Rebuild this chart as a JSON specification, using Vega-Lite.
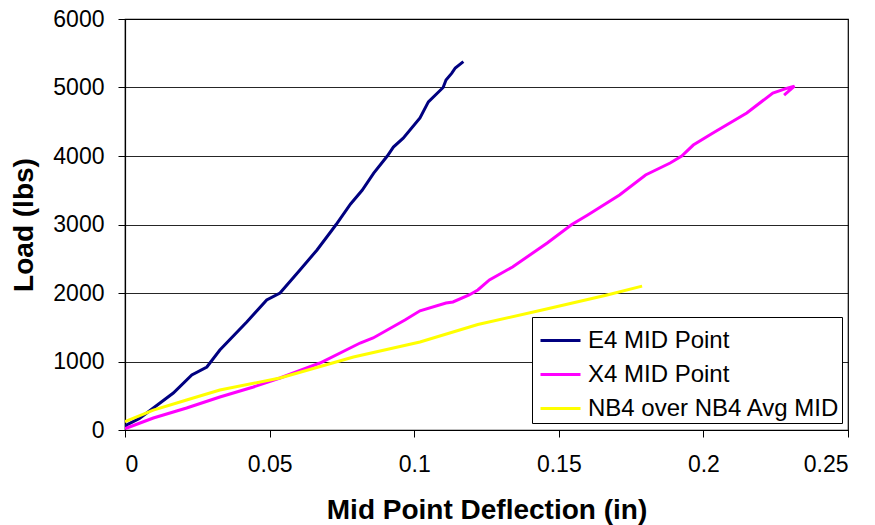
{
  "$schema": "https://vega.github.io/schema/vega-lite/v6.json",
  "width": 723,
  "height": 411,
  "autosize": "none",
  "padding": {"left": 125, "top": 19, "right": 27, "bottom": 95},
  "background": "white",
  "config": {
    "font": "Liberation Sans",
    "view": {"stroke": "black", "strokeWidth": 1.2}
  },
  "data": {
    "values": [
      {"s": "E4 MID Point", "i": 1, "x": 0, "y": 30},
      {"s": "E4 MID Point", "i": 2, "x": 0.0006, "y": 73},
      {"s": "E4 MID Point", "i": 3, "x": 0.005, "y": 170},
      {"s": "E4 MID Point", "i": 4, "x": 0.0098, "y": 321},
      {"s": "E4 MID Point", "i": 5, "x": 0.0167, "y": 540},
      {"s": "E4 MID Point", "i": 6, "x": 0.0231, "y": 803},
      {"s": "E4 MID Point", "i": 7, "x": 0.0283, "y": 920},
      {"s": "E4 MID Point", "i": 8, "x": 0.0328, "y": 1168},
      {"s": "E4 MID Point", "i": 9, "x": 0.0421, "y": 1577},
      {"s": "E4 MID Point", "i": 10, "x": 0.049, "y": 1898},
      {"s": "E4 MID Point", "i": 11, "x": 0.0536, "y": 2000},
      {"s": "E4 MID Point", "i": 12, "x": 0.0605, "y": 2336},
      {"s": "E4 MID Point", "i": 13, "x": 0.0664, "y": 2628},
      {"s": "E4 MID Point", "i": 14, "x": 0.0716, "y": 2920},
      {"s": "E4 MID Point", "i": 15, "x": 0.073, "y": 3000},
      {"s": "E4 MID Point", "i": 16, "x": 0.078, "y": 3300},
      {"s": "E4 MID Point", "i": 17, "x": 0.082, "y": 3500},
      {"s": "E4 MID Point", "i": 18, "x": 0.086, "y": 3750},
      {"s": "E4 MID Point", "i": 19, "x": 0.0907, "y": 4000},
      {"s": "E4 MID Point", "i": 20, "x": 0.0928, "y": 4130},
      {"s": "E4 MID Point", "i": 21, "x": 0.0962, "y": 4260},
      {"s": "E4 MID Point", "i": 22, "x": 0.102, "y": 4555},
      {"s": "E4 MID Point", "i": 23, "x": 0.1049, "y": 4790},
      {"s": "E4 MID Point", "i": 24, "x": 0.11, "y": 5000},
      {"s": "E4 MID Point", "i": 25, "x": 0.111, "y": 5110},
      {"s": "E4 MID Point", "i": 26, "x": 0.113, "y": 5210},
      {"s": "E4 MID Point", "i": 27, "x": 0.1142, "y": 5285},
      {"s": "E4 MID Point", "i": 28, "x": 0.117, "y": 5377},
      {"s": "X4 MID Point", "i": 1, "x": 0, "y": 20},
      {"s": "X4 MID Point", "i": 2, "x": 0.0006, "y": 29},
      {"s": "X4 MID Point", "i": 3, "x": 0.0098, "y": 175},
      {"s": "X4 MID Point", "i": 4, "x": 0.0213, "y": 321},
      {"s": "X4 MID Point", "i": 5, "x": 0.0328, "y": 482},
      {"s": "X4 MID Point", "i": 6, "x": 0.0444, "y": 628},
      {"s": "X4 MID Point", "i": 7, "x": 0.0536, "y": 759},
      {"s": "X4 MID Point", "i": 8, "x": 0.0674, "y": 978},
      {"s": "X4 MID Point", "i": 9, "x": 0.0813, "y": 1270},
      {"s": "X4 MID Point", "i": 10, "x": 0.0858, "y": 1343},
      {"s": "X4 MID Point", "i": 11, "x": 0.0968, "y": 1606},
      {"s": "X4 MID Point", "i": 12, "x": 0.102, "y": 1740},
      {"s": "X4 MID Point", "i": 13, "x": 0.111, "y": 1854},
      {"s": "X4 MID Point", "i": 14, "x": 0.1134, "y": 1869},
      {"s": "X4 MID Point", "i": 15, "x": 0.119, "y": 1971},
      {"s": "X4 MID Point", "i": 16, "x": 0.122, "y": 2044},
      {"s": "X4 MID Point", "i": 17, "x": 0.126, "y": 2190},
      {"s": "X4 MID Point", "i": 18, "x": 0.134, "y": 2380},
      {"s": "X4 MID Point", "i": 19, "x": 0.146, "y": 2730},
      {"s": "X4 MID Point", "i": 20, "x": 0.1545, "y": 3000},
      {"s": "X4 MID Point", "i": 21, "x": 0.16, "y": 3139},
      {"s": "X4 MID Point", "i": 22, "x": 0.171, "y": 3431},
      {"s": "X4 MID Point", "i": 23, "x": 0.18, "y": 3723},
      {"s": "X4 MID Point", "i": 24, "x": 0.1885, "y": 3898},
      {"s": "X4 MID Point", "i": 25, "x": 0.1925, "y": 4000},
      {"s": "X4 MID Point", "i": 26, "x": 0.1965, "y": 4160},
      {"s": "X4 MID Point", "i": 27, "x": 0.2033, "y": 4336},
      {"s": "X4 MID Point", "i": 28, "x": 0.215, "y": 4628},
      {"s": "X4 MID Point", "i": 29, "x": 0.224, "y": 4920},
      {"s": "X4 MID Point", "i": 30, "x": 0.229, "y": 4990},
      {"s": "X4 MID Point", "i": 31, "x": 0.2315, "y": 5020},
      {"s": "X4 MID Point", "i": 32, "x": 0.2279, "y": 4890},
      {"s": "NB4 over NB4 Avg MID", "i": 1, "x": 0, "y": 121},
      {"s": "NB4 over NB4 Avg MID", "i": 2, "x": 0.0098, "y": 290},
      {"s": "NB4 over NB4 Avg MID", "i": 3, "x": 0.0213, "y": 438},
      {"s": "NB4 over NB4 Avg MID", "i": 4, "x": 0.0328, "y": 584},
      {"s": "NB4 over NB4 Avg MID", "i": 5, "x": 0.0536, "y": 759},
      {"s": "NB4 over NB4 Avg MID", "i": 6, "x": 0.079, "y": 1066},
      {"s": "NB4 over NB4 Avg MID", "i": 7, "x": 0.102, "y": 1285},
      {"s": "NB4 over NB4 Avg MID", "i": 8, "x": 0.122, "y": 1540},
      {"s": "NB4 over NB4 Avg MID", "i": 9, "x": 0.145, "y": 1760},
      {"s": "NB4 over NB4 Avg MID", "i": 10, "x": 0.1667, "y": 1971},
      {"s": "NB4 over NB4 Avg MID", "i": 11, "x": 0.1788, "y": 2100}
    ]
  },
  "mark": {"type": "line", "strokeWidth": 3, "clip": true},
  "encoding": {
    "x": {
      "field": "x", "type": "quantitative",
      "scale": {"domain": [0, 0.25], "nice": false, "zero": true},
      "axis": {
        "values": [0, 0.05, 0.1, 0.15, 0.2, 0.25],
        "format": "~g",
        "grid": false,
        "domainColor": "black", "domainWidth": 1.2,
        "tickColor": "black", "tickSize": 7,
        "labelFontSize": 23, "labelColor": "black", "labelPadding": 16,
        "title": "Mid Point Deflection (in)",
        "titleFontSize": 28, "titleFontWeight": "bold", "titleColor": "black",
        "titleX": 361.5, "titleY": 80, "titleBaseline": "middle", "titleAlign": "center"
      }
    },
    "y": {
      "field": "y", "type": "quantitative",
      "scale": {"domain": [0, 6000], "nice": false},
      "axis": {
        "values": [0, 1000, 2000, 3000, 4000, 5000, 6000],
        "format": "d",
        "grid": true, "gridColor": "black", "gridWidth": 1, "gridOpacity": 0.85,
        "domainColor": "black", "domainWidth": 1.2,
        "tickColor": "black", "tickSize": 7,
        "labelFontSize": 23, "labelColor": "black", "labelPadding": 14,
        "title": "Load (lbs)",
        "titleFontSize": 28, "titleFontWeight": "bold", "titleColor": "black",
        "titleX": -101, "titleY": 205.5, "titleAngle": -90, "titleBaseline": "middle", "titleAlign": "center"
      }
    },
    "color": {
      "field": "s", "type": "nominal",
      "scale": {
        "domain": ["E4 MID Point", "X4 MID Point", "NB4 over NB4 Avg MID"],
        "range": ["#000080", "#FF00FF", "#FFFF00"]
      },
      "legend": {
        "title": null,
        "orient": "none",
        "legendX": 407,
        "legendY": 298,
        "direction": "vertical",
        "symbolType": "stroke",
        "symbolSize": 1600,
        "symbolStrokeWidth": 3,
        "symbolOffset": 5,
        "labelOffset": 6,
        "labelFontSize": 24,
        "labelColor": "black",
        "rowPadding": -5,
        "padding": 2,
        "strokeColor": "black",
        "fillColor": "white",
        "labelLimit": 400
      }
    },
    "order": {"field": "i", "type": "quantitative"}
  }
}
